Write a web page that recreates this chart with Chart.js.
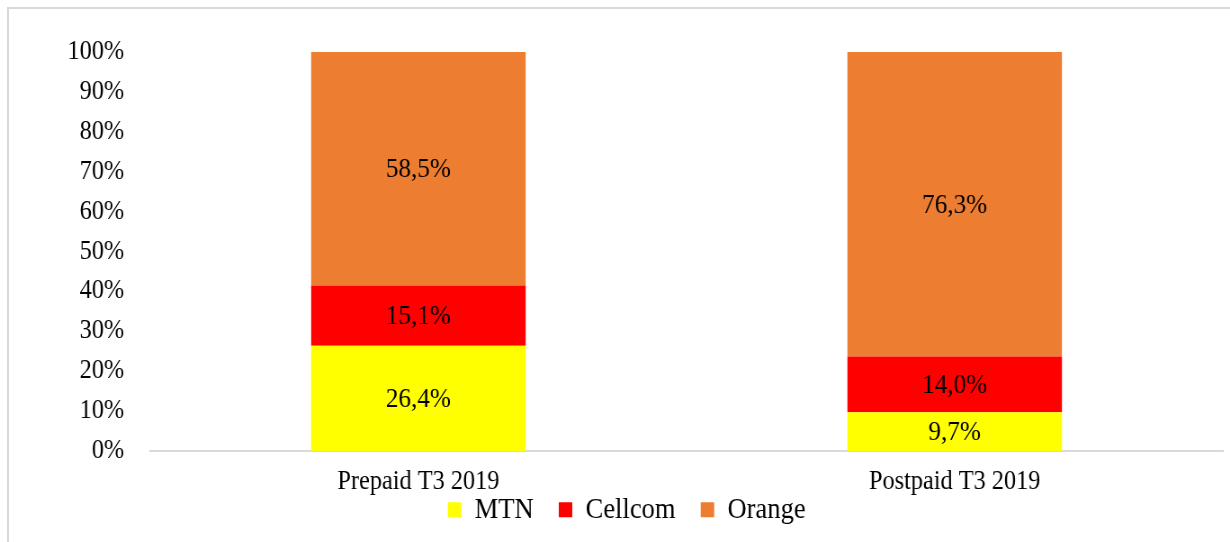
<!DOCTYPE html>
<html>
<head>
<meta charset="utf-8">
<script src="https://cdn.jsdelivr.net/npm/chart.js@4"></script>
<style>
  body { margin: 0; background: #fff; overflow: hidden; }
  #wrap { position: relative; width: 1230px; height: 542px; overflow: hidden; }
  #frame { position: absolute; left: 7px; top: 7px; right: -10px; bottom: -10px; border: 2px solid #d9d9d9; }
  /* the original picture is a bit squeezed sideways, so the canvas is drawn wider and scaled back */
  #stage { position: absolute; left: 0; top: 0; transform: scaleX(0.8998); transform-origin: 0 0; }
</style>
</head>
<body>
<div id="wrap">
  <div id="frame"></div>
  <div id="stage"><canvas id="chart" width="1367" height="542"></canvas></div>
</div>
<script>
const categories = ["Prepaid T3 2019", "Postpaid T3 2019"];
const mtn = [26.4, 9.7];
const cellcom = [15.1, 14.0];
const orange = [58.5, 76.3];

const serif = "'Times New Roman', 'Liberation Serif', serif";

// value written in the middle of every bar segment
const segmentLabels = {
  id: 'segmentLabels',
  afterDatasetsDraw(chart) {
    const ctx = chart.ctx;
    ctx.save();
    ctx.font = "28px " + serif;
    ctx.fillStyle = "#000";
    ctx.textAlign = "center";
    ctx.textBaseline = "middle";
    chart.data.datasets.forEach((ds, i) => {
      const meta = chart.getDatasetMeta(i);
      meta.data.forEach((bar, j) => {
        const p = bar.getProps(['x', 'y', 'base'], true);
        const txt = ds.data[j].toFixed(1).replace('.', ',') + '%';
        ctx.fillText(txt, p.x, (p.y + p.base) / 2 + 1);
      });
    });
    ctx.restore();
  }
};

// legend sits close under the category labels but keeps wide spacing between items
const legendPlacement = {
  id: 'legendPlacement',
  beforeLayout(chart) {
    const lg = chart.legend;
    if (lg && !lg._shortFit) {
      const fit = lg.fit;
      lg.fit = function () { fit.call(this); this.height = 44; };
      lg._shortFit = true;
    }
  },
  afterLayout(chart) {
    const lg = chart.legend;
    lg.top = 467;
    lg.bottom = chart.height;
    lg.height = lg.bottom - lg.top;
    lg.left += 17;
    lg.right += 17;
  }
};

new Chart(document.getElementById("chart"), {
  type: 'bar',
  data: {
    labels: categories,
    datasets: [
      { label: "MTN", data: mtn, backgroundColor: "#FFFF00" },
      { label: "Cellcom", data: cellcom, backgroundColor: "#FF0000" },
      { label: "Orange", data: orange, backgroundColor: "#ED7D31" }
    ]
  },
  options: {
    responsive: false,
    animation: false,
    layout: { padding: { left: 0, right: 8, top: 52, bottom: 0 } },
    datasets: { bar: { categoryPercentage: 0.4, barPercentage: 1 } },
    scales: {
      x: {
        stacked: true,
        grid: { display: false, drawTicks: false },
        border: { color: "#d9d9d9", width: 2 },
        ticks: { color: "#000", font: { family: serif, size: 27 }, padding: 15 },
        afterFit: s => { s.height = 47; }
      },
      y: {
        stacked: true,
        min: 0, max: 100,
        grid: { display: false, drawTicks: false },
        border: { display: false },
        ticks: {
          stepSize: 10, color: "#000", padding: 29,
          font: { family: serif, size: 27 },
          callback: v => v + '%'
        },
        afterFit: s => { s.width = 167; }
      }
    },
    plugins: {
      legend: {
        position: 'bottom',
        labels: {
          color: "#000", boxWidth: 15, boxHeight: 15, padding: 28,
          font: { family: serif, size: 29.5 }
        }
      },
      tooltip: { enabled: false }
    }
  },
  plugins: [segmentLabels, legendPlacement]
});
</script>
</body>
</html>
